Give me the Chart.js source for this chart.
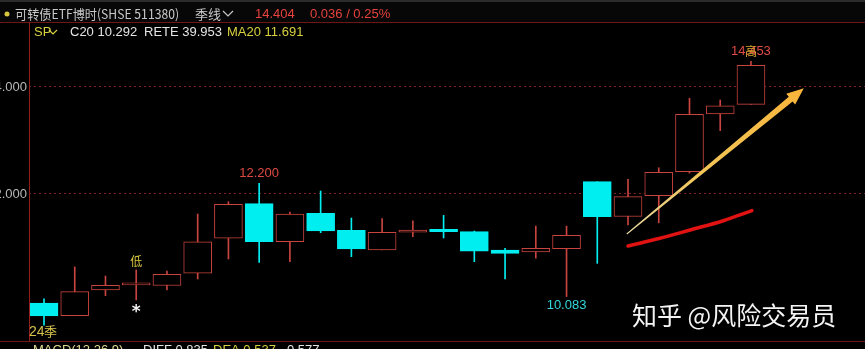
<!DOCTYPE html>
<html>
<head>
<meta charset="utf-8">
<script src="https://cdn.jsdelivr.net/npm/chart.js@4.4.0/dist/chart.umd.min.js"></script>
<style>
html,body{margin:0;padding:0;background:#000;overflow:hidden;}
</style>
</head>
<body>
<canvas id="grafica" width="865" height="349"></canvas>
<script>
// datos de las velas trimestrales
const aperturas = [9.963, 9.725, 10.206, 10.30, 10.29, 10.518, 11.172, 11.82, 11.11, 11.639, 11.32, 10.953, 11.284, 11.34, 11.295, 10.953, 10.916, 10.977, 12.23, 11.579, 11.97, 12.417, 13.495, 13.676];
const cierres   = [9.720, 10.174, 10.293, 10.305, 10.50, 11.108, 11.807, 11.11, 11.626, 11.308, 10.972, 11.284, 11.327, 11.295, 10.929, 10.89, 10.985, 11.228, 11.576, 11.95, 12.405, 13.49, 13.65, 14.404];
const maximos   = [10.04, 10.636, 10.467, 10.58, 10.56, 11.626, 11.856, 12.200, 11.66, 12.056, 11.55, 11.538, 11.50, 11.60, 11.308, 10.985, 11.40, 11.40, 12.23, 12.275, 12.49, 13.79, 13.757, 14.48];
const minimos   = [9.55, 9.725, 10.099, 10.02, 10.206, 10.411, 10.785, 10.72, 10.735, 11.276, 10.828, 10.953, 11.20, 11.178, 10.735, 10.411, 10.80, 10.083, 10.704, 11.42, 11.46, 12.39, 13.183, 13.676];
const ticksY = [12, 14];
// flecha amarilla y curva roja (en unidades de indice / precio)
const flechaX = [18.96, 24.72];
const flechaY = [11.252, 13.976];
const curvaX = [19.0, 20.04, 21.02, 22.1, 23.03];
const curvaY = [11.028, 11.172, 11.327, 11.50, 11.688];
// etiquetas sobre las velas
const marcas = [
  {i: 7, texto: '12.200', donde: 'arriba', color: '#e04a44'},
  {i: 17, texto: '10.083', donde: 'abajo', color: '#2fd8dc'},
  {i: 23, texto: '14.453', donde: 'arriba', color: '#e04a44'}
];

const rojo = '#c8443f';
const cian = '#00eef0';
const idx = aperturas.map((_, i) => i);
const sube = i => cierres[i] >= aperturas[i];

const decoracion = {
  id: 'decoracion',
  beforeDraw(chart) {
    const ctx = chart.ctx;
    ctx.save();
    ctx.fillStyle = '#000';
    ctx.fillRect(0, 0, 865, 349);
    ctx.fillStyle = '#2c2c2c';
    ctx.fillRect(0, 0, 865, 2);
    ctx.fillStyle = '#070707';
    ctx.fillRect(0, 2, 865, 20);
    ctx.restore();
  },
  afterDraw(chart) {
    const ctx = chart.ctx;
    const x = chart.scales.x, y = chart.scales.y;
    ctx.save();
    // lineas del marco
    ctx.fillStyle = '#6e1616';
    ctx.fillRect(0, 22, 865, 1);
    ctx.fillRect(0, 341, 865, 1);
    ctx.fillStyle = '#961e1e';
    ctx.fillRect(29, 22, 1, 319);

    // cabecera
    ctx.textBaseline = 'middle';
    ctx.fillStyle = '#d8c840';
    ctx.beginPath(); ctx.arc(7, 14, 2.5, 0, Math.PI * 2); ctx.fill();
    ctx.font = '13px "Noto Sans CJK SC"';
    ctx.fillStyle = '#c8c8c8';
    ctx.fillText('可转债ETF博时(SHSE 511380)', 15, 14, 164);
    ctx.fillText('季线', 195, 14, 26);
    ctx.font = '13px "Liberation Sans"';
    ctx.fillStyle = '#e8433d';
    ctx.fillText('14.404', 255, 14);
    ctx.fillText('0.036 / 0.25%', 310, 14, 83);
    ctx.fillStyle = '#d8d040';
    ctx.fillText('SP', 34, 32);
    ctx.fillStyle = '#e4e4e4';
    ctx.fillText('C20 10.292', 70, 32);
    ctx.fillText('RETE 39.953', 144, 32);
    ctx.fillStyle = '#d8d040';
    ctx.fillText('MA20 11.691', 227, 32);
    // flechitas
    ctx.lineWidth = 1.2;
    ctx.strokeStyle = '#c8c8c8';
    ctx.beginPath(); ctx.moveTo(223, 11); ctx.lineTo(228, 16); ctx.lineTo(233, 11); ctx.stroke();
    ctx.strokeStyle = '#d8d040';
    ctx.beginPath(); ctx.moveTo(49, 30); ctx.lineTo(53, 34); ctx.lineTo(57, 30); ctx.stroke();

    // etiquetas del eje y (cortadas por el borde)
    ctx.font = '13px "Liberation Sans"';
    ctx.fillStyle = '#b8b8b8';
    ctx.textAlign = 'right';
    y.ticks.forEach(t => ctx.fillText(t.value.toFixed(3), 27, y.getPixelForValue(t.value)));

    // maximos y minimos
    ctx.textAlign = 'center';
    marcas.forEach(m => {
      ctx.fillStyle = m.color;
      const px = x.getPixelForValue(m.i);
      if (m.donde === 'arriba') ctx.fillText(m.texto, px, y.getPixelForValue(maximos[m.i]) - 10);
      else ctx.fillText(m.texto, px, y.getPixelForValue(minimos[m.i]) + 9);
    });
    ctx.font = '12px "Noto Sans CJK SC"';
    ctx.fillStyle = '#d8a830';
    ctx.fillText('高', x.getPixelForValue(23), y.getPixelForValue(maximos[23]) - 10);
    ctx.fillStyle = '#d8c840';
    ctx.fillText('低', x.getPixelForValue(3), y.getPixelForValue(maximos[3]) - 9);
    ctx.font = 'bold 17px "DejaVu Sans"';
    ctx.fillStyle = '#f0f0f0';
    ctx.fillText('*', x.getPixelForValue(3), y.getPixelForValue(minimos[3]) + 13);

    // flecha
    const sx = x.getPixelForValue(flechaX[0]), sy = y.getPixelForValue(flechaY[0]);
    const tx = x.getPixelForValue(flechaX[1]), ty = y.getPixelForValue(flechaY[1]);
    const len = Math.hypot(tx - sx, ty - sy);
    const ux = (tx - sx) / len, uy = (ty - sy) / len;
    const nx = -uy, ny = ux;
    const cab = 17, bx = tx - ux * cab, by = ty - uy * cab;
    const grad = ctx.createLinearGradient(sx, sy, tx, ty);
    grad.addColorStop(0, '#e6d9a0');
    grad.addColorStop(0.4, '#f2c65a');
    grad.addColorStop(1, '#f8b43a');
    ctx.fillStyle = grad;
    ctx.beginPath();
    ctx.moveTo(sx + nx * 0.5, sy + ny * 0.5);
    ctx.lineTo(bx + nx * 3, by + ny * 3);
    ctx.lineTo(bx + nx * 7, by + ny * 7);
    ctx.lineTo(tx, ty);
    ctx.lineTo(bx - nx * 7, by - ny * 7);
    ctx.lineTo(bx - nx * 3, by - ny * 3);
    ctx.lineTo(sx - nx * 0.5, sy - ny * 0.5);
    ctx.closePath();
    ctx.fill();

    // textos de abajo
    ctx.textAlign = 'left';
    ctx.textBaseline = 'middle';
    ctx.font = '14px "Liberation Sans"';
    ctx.fillStyle = '#d4c24a';
    ctx.fillText('24', 29, 332);
    ctx.font = '13px "Noto Sans CJK SC"';
    ctx.fillText('季', 44, 331);
    ctx.textBaseline = 'top';
    ctx.font = '13px "Liberation Sans"';
    ctx.fillStyle = '#e0d890';
    ctx.fillText('MACD(12,26,9)', 33, 344);
    ctx.fillStyle = '#e4e4e4';
    ctx.fillText('DIFF 0.835', 143, 344);
    ctx.fillStyle = '#d8d040';
    ctx.fillText('DEA 0.537', 213, 344);
    ctx.fillStyle = '#e4e4e4';
    ctx.fillText('0.577', 287, 344);

    // marca de agua
    ctx.textBaseline = 'middle';
    ctx.font = '25px "Noto Sans CJK SC"';
    ctx.fillStyle = '#f4f4f4';
    ctx.fillText('知乎 @风险交易员', 632, 315, 208);
    ctx.restore();
  }
};

const grafica = new Chart(document.getElementById('grafica'), {
  type: 'bar',
  data: {
    datasets: [{
      label: 'mechas',
      data: idx.map(i => ({x: i, y: [minimos[i], maximos[i]]})),
      backgroundColor: idx.map(i => sube(i) ? rojo : cian),
      barThickness: 1,
      grouped: false,
      order: 3
    }, {
      label: 'cuerpos',
      data: idx.map(i => ({x: i, y: [aperturas[i], cierres[i]]})),
      backgroundColor: idx.map(i => sube(i) ? '#000' : cian),
      borderColor: idx.map(i => sube(i) ? rojo : cian),
      borderWidth: 1,
      borderSkipped: false,
      barThickness: 28,
      minBarLength: 2,
      grouped: false,
      order: 2
    }, {
      type: 'line',
      label: 'curva',
      data: curvaX.map((v, i) => ({x: v, y: curvaY[i]})),
      borderColor: '#e01212',
      borderWidth: 3.5,
      borderCapStyle: 'round',
      tension: 0.4,
      pointRadius: 0,
      order: 1
    }]
  },
  options: {
    responsive: false,
    animation: false,
    layout: {padding: {left: 29, top: 23, right: 0, bottom: 8}},
    plugins: {legend: {display: false}, tooltip: {enabled: false}},
    scales: {
      x: {type: 'linear', min: -0.488, max: 26.71, offset: false, display: false},
      y: {
        min: 9.252, max: 15.196,
        afterBuildTicks: s => { s.ticks = ticksY.map(v => ({value: v})); },
        ticks: {display: false},
        border: {display: false, dash: [2, 3]},
        grid: {color: 'rgba(150,40,40,0.85)', drawTicks: false}
      }
    }
  },
  plugins: [decoracion]
});
</script>
</body>
</html>
